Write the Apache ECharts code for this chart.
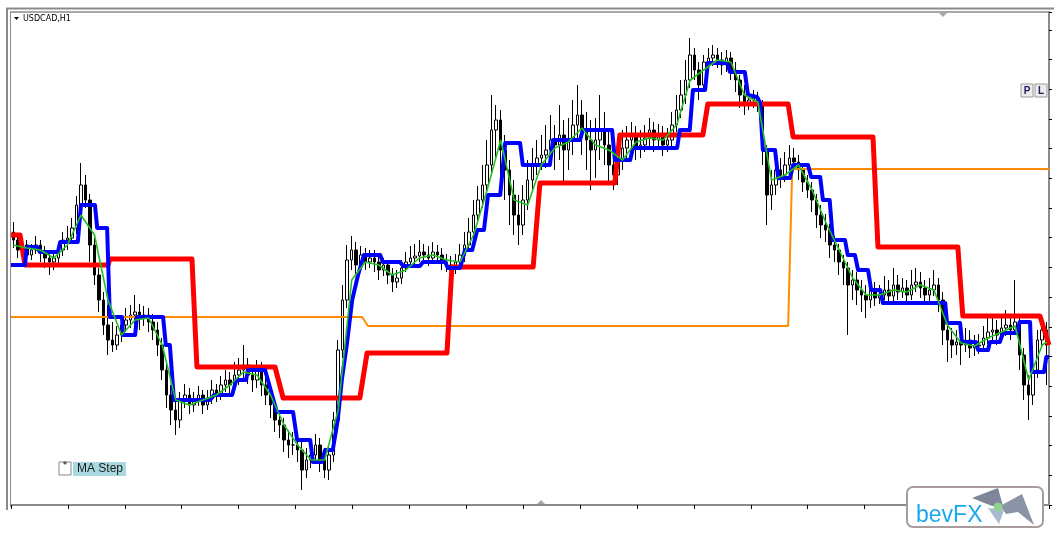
<!DOCTYPE html>
<html>
<head>
<meta charset="utf-8">
<title>USDCAD,H1 - MA Step</title>
<script src="https://cdn.jsdelivr.net/npm/echarts@6/dist/echarts.min.js"></script>
<style>
  html, body { margin: 0; padding: 0; background: #fff; }
  #chart { width: 1062px; height: 544px; }
</style>
</head>
<body>
<div id="chart"></div>
<script>
// H1 candles, [open, close, low, high]
const candles = [
  [1.3180,1.3172,1.3164,1.3190],[1.3172,1.3162,1.3154,1.3178],[1.3162,1.3167,1.3156,1.3174],[1.3167,1.3157,1.3150,1.3172],[1.3157,1.3162,1.3152,1.3168],
  [1.3162,1.3167,1.3158,1.3176],[1.3167,1.3160,1.3150,1.3172],[1.3160,1.3154,1.3144,1.3166],[1.3154,1.3150,1.3137,1.3162],[1.3150,1.3154,1.3142,1.3160],
  [1.3154,1.3162,1.3148,1.3168],[1.3162,1.3172,1.3156,1.3180],[1.3172,1.3174,1.3162,1.3186],[1.3174,1.3184,1.3168,1.3194],[1.3184,1.3207,1.3178,1.3216],
  [1.3207,1.3227,1.3200,1.3249],[1.3227,1.3212,1.3204,1.3237],[1.3212,1.3167,1.3150,1.3218],[1.3167,1.3137,1.3127,1.3174],[1.3137,1.3112,1.3100,1.3144],
  [1.3112,1.3087,1.3077,1.3120],[1.3087,1.3072,1.3057,1.3107],[1.3072,1.3067,1.3060,1.3090],[1.3067,1.3077,1.3062,1.3086],[1.3077,1.3087,1.3070,1.3096],
  [1.3087,1.3092,1.3080,1.3104],[1.3092,1.3097,1.3084,1.3107],[1.3097,1.3100,1.3088,1.3117],[1.3100,1.3094,1.3082,1.3108],[1.3094,1.3097,1.3086,1.3106],
  [1.3097,1.3090,1.3080,1.3104],[1.3090,1.3082,1.3072,1.3098],[1.3082,1.3067,1.3056,1.3090],[1.3067,1.3042,1.3032,1.3074],[1.3042,1.3017,1.3004,1.3050],
  [1.3017,1.3002,1.2987,1.3027],[1.3002,1.2992,1.2977,1.3014],[1.2992,1.3012,1.2984,1.3020],[1.3012,1.3017,1.3004,1.3028],[1.3017,1.3007,1.2998,1.3024],
  [1.3007,1.3012,1.3000,1.3020],[1.3012,1.3017,1.3006,1.3026],[1.3017,1.3007,1.2998,1.3022],[1.3007,1.3014,1.3002,1.3022],[1.3014,1.3022,1.3008,1.3032],
  [1.3022,1.3017,1.3010,1.3028],[1.3017,1.3027,1.3012,1.3036],[1.3027,1.3032,1.3020,1.3042],[1.3032,1.3027,1.3018,1.3040],[1.3027,1.3037,1.3020,1.3050],
  [1.3037,1.3042,1.3027,1.3054],[1.3042,1.3047,1.3034,1.3067],[1.3047,1.3037,1.3028,1.3054],[1.3037,1.3032,1.3020,1.3046],[1.3032,1.3042,1.3024,1.3052],
  [1.3042,1.3027,1.3016,1.3050],[1.3027,1.3017,1.3007,1.3034],[1.3017,1.3007,1.2994,1.3026],[1.3007,1.2992,1.2980,1.3014],[1.2992,1.2987,1.2974,1.3002],
  [1.2987,1.2972,1.2960,1.2994],[1.2972,1.2967,1.2954,1.2982],[1.2967,1.2967,1.2957,1.2980],[1.2967,1.2962,1.2950,1.2976],[1.2962,1.2942,1.2922,1.2972],
  [1.2942,1.2952,1.2934,1.2964],[1.2952,1.2957,1.2944,1.2972],[1.2957,1.2967,1.2950,1.2978],[1.2967,1.2952,1.2940,1.2974],[1.2952,1.2942,1.2934,1.2964],
  [1.2942,1.2957,1.2932,1.2967],[1.2957,1.2992,1.2950,1.3000],[1.2992,1.3062,1.2984,1.3072],[1.3062,1.3112,1.3054,1.3127],[1.3112,1.3152,1.3104,1.3167],
  [1.3152,1.3162,1.3142,1.3176],[1.3162,1.3147,1.3137,1.3170],[1.3147,1.3157,1.3140,1.3166],[1.3157,1.3150,1.3142,1.3164],[1.3150,1.3154,1.3144,1.3162],
  [1.3154,1.3150,1.3140,1.3162],[1.3150,1.3142,1.3132,1.3156],[1.3142,1.3147,1.3136,1.3154],[1.3147,1.3137,1.3128,1.3152],[1.3137,1.3130,1.3120,1.3144],
  [1.3130,1.3134,1.3124,1.3142],[1.3134,1.3144,1.3128,1.3152],[1.3144,1.3150,1.3140,1.3160],[1.3150,1.3154,1.3144,1.3166],[1.3154,1.3156,1.3146,1.3168],
  [1.3156,1.3160,1.3150,1.3172],[1.3160,1.3157,1.3150,1.3168],[1.3157,1.3154,1.3146,1.3166],[1.3154,1.3160,1.3148,1.3170],[1.3160,1.3157,1.3150,1.3167],
  [1.3157,1.3150,1.3142,1.3164],[1.3150,1.3147,1.3140,1.3158],[1.3147,1.3144,1.3136,1.3156],[1.3144,1.3150,1.3138,1.3158],[1.3150,1.3157,1.3144,1.3168],
  [1.3157,1.3167,1.3150,1.3180],[1.3167,1.3180,1.3162,1.3194],[1.3180,1.3197,1.3174,1.3212],[1.3197,1.3212,1.3190,1.3226],[1.3212,1.3227,1.3204,1.3247],
  [1.3227,1.3247,1.3220,1.3272],[1.3247,1.3282,1.3237,1.3317],[1.3282,1.3292,1.3252,1.3307],[1.3292,1.3262,1.3237,1.3302],[1.3262,1.3242,1.3212,1.3277],
  [1.3242,1.3217,1.3187,1.3252],[1.3217,1.3197,1.3177,1.3232],[1.3197,1.3187,1.3167,1.3217],[1.3187,1.3212,1.3177,1.3227],[1.3212,1.3232,1.3202,1.3252],
  [1.3232,1.3247,1.3220,1.3264],[1.3247,1.3254,1.3237,1.3272],[1.3254,1.3257,1.3242,1.3277],[1.3257,1.3262,1.3244,1.3287],[1.3262,1.3272,1.3247,1.3297],
  [1.3272,1.3267,1.3242,1.3287],[1.3267,1.3277,1.3252,1.3307],[1.3277,1.3262,1.3227,1.3292],[1.3262,1.3272,1.3242,1.3294],[1.3272,1.3287,1.3257,1.3312],
  [1.3287,1.3297,1.3272,1.3327],[1.3297,1.3282,1.3257,1.3312],[1.3282,1.3272,1.3242,1.3300],[1.3272,1.3262,1.3222,1.3292],[1.3262,1.3272,1.3234,1.3294],
  [1.3272,1.3282,1.3252,1.3317],[1.3282,1.3267,1.3247,1.3300],[1.3267,1.3247,1.3227,1.3282],[1.3247,1.3237,1.3222,1.3262],[1.3237,1.3252,1.3227,1.3267],
  [1.3252,1.3264,1.3242,1.3282],[1.3264,1.3272,1.3252,1.3286],[1.3272,1.3277,1.3260,1.3290],[1.3277,1.3264,1.3252,1.3286],[1.3264,1.3267,1.3254,1.3282],
  [1.3267,1.3274,1.3260,1.3287],[1.3274,1.3282,1.3266,1.3294],[1.3282,1.3272,1.3260,1.3290],[1.3272,1.3277,1.3264,1.3288],[1.3277,1.3267,1.3256,1.3286],
  [1.3267,1.3272,1.3260,1.3284],[1.3272,1.3287,1.3264,1.3300],[1.3287,1.3302,1.3280,1.3317],[1.3302,1.3317,1.3294,1.3332],[1.3317,1.3332,1.3308,1.3352],
  [1.3332,1.3357,1.3324,1.3374],[1.3357,1.3342,1.3332,1.3364],[1.3342,1.3327,1.3312,1.3350],[1.3327,1.3350,1.3320,1.3357],[1.3350,1.3354,1.3342,1.3364],
  [1.3354,1.3357,1.3346,1.3367],[1.3357,1.3352,1.3344,1.3364],[1.3352,1.3347,1.3337,1.3360],[1.3347,1.3354,1.3340,1.3362],[1.3354,1.3342,1.3332,1.3360],
  [1.3342,1.3332,1.3320,1.3350],[1.3332,1.3317,1.3304,1.3337],[1.3317,1.3307,1.3297,1.3327],[1.3307,1.3312,1.3302,1.3320],[1.3312,1.3314,1.3304,1.3322],
  [1.3314,1.3307,1.3300,1.3320],[1.3307,1.3262,1.3247,1.3312],[1.3262,1.3217,1.3187,1.3267],[1.3217,1.3227,1.3202,1.3242],[1.3227,1.3242,1.3217,1.3254],
  [1.3242,1.3237,1.3224,1.3254],[1.3237,1.3247,1.3230,1.3260],[1.3247,1.3254,1.3240,1.3267],[1.3254,1.3250,1.3242,1.3264],[1.3250,1.3242,1.3232,1.3257],
  [1.3242,1.3230,1.3220,1.3248],[1.3230,1.3222,1.3214,1.3237],[1.3222,1.3212,1.3200,1.3230],[1.3212,1.3197,1.3184,1.3218],[1.3197,1.3187,1.3174,1.3207],
  [1.3187,1.3182,1.3170,1.3198],[1.3182,1.3167,1.3154,1.3188],[1.3167,1.3162,1.3150,1.3176],[1.3162,1.3150,1.3137,1.3168],[1.3150,1.3144,1.3127,1.3157],
  [1.3144,1.3127,1.3077,1.3150],[1.3127,1.3132,1.3112,1.3142],[1.3132,1.3122,1.3107,1.3140],[1.3122,1.3117,1.3100,1.3132],[1.3117,1.3112,1.3094,1.3127],
  [1.3112,1.3122,1.3104,1.3134],[1.3122,1.3114,1.3106,1.3130],[1.3114,1.3117,1.3108,1.3127],[1.3117,1.3122,1.3112,1.3136],[1.3122,1.3116,1.3108,1.3132],
  [1.3116,1.3127,1.3110,1.3144],[1.3127,1.3120,1.3112,1.3137],[1.3120,1.3124,1.3114,1.3134],[1.3124,1.3117,1.3108,1.3132],[1.3117,1.3127,1.3112,1.3142],
  [1.3127,1.3130,1.3120,1.3144],[1.3130,1.3124,1.3114,1.3140],[1.3124,1.3117,1.3107,1.3132],[1.3117,1.3122,1.3110,1.3134],[1.3122,1.3127,1.3116,1.3142],
  [1.3127,1.3112,1.3100,1.3134],[1.3112,1.3082,1.3067,1.3120],[1.3082,1.3072,1.3050,1.3092],[1.3072,1.3067,1.3054,1.3084],[1.3067,1.3070,1.3057,1.3082],
  [1.3070,1.3067,1.3047,1.3080],[1.3067,1.3072,1.3060,1.3084],[1.3072,1.3064,1.3054,1.3082],[1.3064,1.3066,1.3056,1.3077],[1.3066,1.3067,1.3058,1.3078],
  [1.3067,1.3074,1.3062,1.3086],[1.3074,1.3080,1.3068,1.3094],[1.3080,1.3082,1.3072,1.3097],[1.3082,1.3077,1.3067,1.3092],[1.3077,1.3084,1.3070,1.3097],
  [1.3084,1.3087,1.3076,1.3102],[1.3087,1.3082,1.3072,1.3097],[1.3082,1.3090,1.3077,1.3132],[1.3090,1.3057,1.3042,1.3096],[1.3057,1.3027,1.3012,1.3064],
  [1.3027,1.3017,1.2992,1.3037],[1.3017,1.3042,1.3007,1.3050],[1.3042,1.3072,1.3034,1.3082],[1.3072,1.3082,1.3064,1.3094],[1.3082,1.3067,1.3027,1.3090]
];

// green fast MA, [bar, price]
const maFast = [
  [0,1.3167],[3,1.3164],[6,1.3162],[9,1.3154],[12,1.3167],[15,1.3197],[18,1.3177],[21,1.3112],[24,1.3077],[27,1.3092],
  [30,1.3094],[33,1.3067],[36,1.3012],[39,1.3007],[42,1.3012],[45,1.3017],[48,1.3027],[51,1.3040],[54,1.3037],[57,1.3017],
  [60,1.2987],[63,1.2967],[66,1.2952],[69,1.2952],[72,1.3002],[75,1.3132],[78,1.3150],[81,1.3147],[84,1.3137],[87,1.3142],
  [90,1.3154],[93,1.3157],[96,1.3152],[99,1.3150],[102,1.3177],[105,1.3222],[108,1.3272],[111,1.3212],[114,1.3207],[117,1.3247],
  [120,1.3264],[123,1.3270],[126,1.3284],[129,1.3267],[132,1.3262],[135,1.3252],[138,1.3270],[141,1.3274],[144,1.3272],[147,1.3287],
  [150,1.3332],[153,1.3342],[156,1.3352],[159,1.3350],[162,1.3317],[165,1.3310],[168,1.3232],[171,1.3237],[174,1.3247],[177,1.3222],
  [180,1.3190],[183,1.3162],[186,1.3134],[189,1.3117],[192,1.3117],[195,1.3122],[198,1.3120],[201,1.3127],[204,1.3122],[207,1.3087],
  [210,1.3069],[213,1.3066],[216,1.3074],[219,1.3080],[222,1.3086],[225,1.3032],[228,1.3067],[229,1.3070]
];

// blue MA step, [bar, price]
const stepBlue = [
  [-0.5,1.3147],[2.6,1.3147],[3.0,1.3165],[5.3,1.3165],[5.9,1.3160],[9.9,1.3160],[10.4,1.3170],[14.3,1.3170],[15.0,1.3207],[18.1,1.3207],
  [18.6,1.3184],[20.8,1.3184],[21.4,1.3095],[24.1,1.3095],[24.3,1.3077],[27.0,1.3077],[27.4,1.3095],[33.2,1.3095],[33.8,1.3067],[34.7,1.3067],
  [35.6,1.3012],[43.6,1.3012],[44.5,1.3017],[48.5,1.3017],[49.4,1.3032],[51.6,1.3032],[52.0,1.3042],[55.8,1.3042],[58.4,1.3000],[62.0,1.3000],
  [62.9,1.2972],[65.8,1.2972],[66.4,1.2950],[68.4,1.2950],[69.1,1.2962],[70.8,1.2962],[71.9,1.2992],[72.8,1.3032],[73.9,1.3067],[75.1,1.3112],
  [76.4,1.3137],[77.7,1.3157],[81.3,1.3157],[81.9,1.3150],[85.7,1.3150],[86.4,1.3146],[90.1,1.3146],[90.8,1.3150],[95.7,1.3150],[96.3,1.3144],
  [99.0,1.3144],[100.1,1.3162],[101.7,1.3162],[102.8,1.3182],[104.3,1.3182],[105.2,1.3217],[107.9,1.3217],[109.0,1.3269],[112.3,1.3269],[112.9,1.3247],
  [118.9,1.3247],[119.6,1.3272],[125.6,1.3272],[126.2,1.3282],[132.7,1.3282],[133.3,1.3252],[136.7,1.3252],[137.3,1.3264],[147.1,1.3264],[147.7,1.3282],
  [149.9,1.3282],[150.6,1.3322],[153.3,1.3322],[153.9,1.3349],[158.2,1.3349],[158.8,1.3340],[162.1,1.3340],[162.8,1.3317],[164.8,1.3315],[165.5,1.3309],
  [166.1,1.3262],[168.8,1.3262],[169.5,1.3234],[172.1,1.3234],[172.8,1.3247],[176.1,1.3247],[176.8,1.3235],[178.8,1.3235],[179.4,1.3212],[180.9,1.3212],
  [181.6,1.3172],[184.3,1.3172],[184.9,1.3157],[186.5,1.3157],[187.2,1.3142],[189.4,1.3142],[190.1,1.3122],[192.1,1.3122],[192.7,1.3109],[206.5,1.3109],
  [206.9,1.3089],[209.8,1.3089],[210.2,1.3070],[213.3,1.3070],[213.8,1.3062],[216.0,1.3062],[216.4,1.3070],[218.6,1.3070],[219.3,1.3079],[222.5,1.3079],
  [223.0,1.3090],[225.3,1.3090],[225.7,1.3040],[228.4,1.3040],[228.9,1.3055],[229.5,1.3055]
];

// red slow MA step, [bar, price]
const stepRed = [
  [-0.5,1.3177],[1.5,1.3177],[2.6,1.3147],[21.0,1.3147],[21.4,1.3153],[39.6,1.3153],[40.7,1.3045],[58.0,1.3045],[59.8,1.3014],[76.8,1.3014],
  [78.4,1.3059],[96.1,1.3059],[97.2,1.3145],[115.2,1.3145],[116.7,1.3229],[133.3,1.3229],[134.4,1.3277],[152.8,1.3277],[153.9,1.3308],[171.7,1.3308],
  [172.8,1.3275],[190.5,1.3275],[191.6,1.3165],[209.3,1.3165],[210.4,1.3096],[227.5,1.3096],[229.5,1.3067]
];

// orange level, [bar, price]
const stepOrange = [
  [-0.5,1.3095],[77.3,1.3095],[78.6,1.3086],[171.7,1.3086],[172.6,1.3243],[229.5,1.3243]
];

const bars = candles.map((c, i) => String(i));

const chart = echarts.init(document.getElementById('chart'));

const FONT = 'Liberation Sans';
const axisGray = '#8a8a8a';

chart.setOption({
  animation: false,
  backgroundColor: '#ffffff',
  grid: { left: 11, right: 13, top: 12, bottom: 39 },
  xAxis: [
    { type: 'category', data: bars, boundaryGap: true, show: false, position: 'bottom' },
    { type: 'value', min: -0.5, max: 229.5, show: false, position: 'bottom' },
    { // bottom time axis, ticks only
      type: 'value', min: 0, max: 18.24, interval: 1, position: 'bottom',
      axisLine: { show: true, onZero: false, lineStyle: { color: axisGray, width: 2 } },
      axisTick: { show: true, length: 4, lineStyle: { color: '#000', width: 1 } },
      axisLabel: { show: false }, splitLine: { show: false }
    }
  ],
  yAxis: [
    { type: 'value', min: 1.2907, max: 1.3400, show: false, position: 'left' },
    { // price scale on the right, ticks only
      type: 'value', min: 0, max: 16.6, interval: 1, position: 'right',
      axisLine: { show: true, onZero: false, lineStyle: { color: axisGray, width: 2 } },
      axisTick: { show: true, length: 3, lineStyle: { color: '#000', width: 1 } },
      axisLabel: { show: false }, splitLine: { show: false }
    }
  ],
  series: [
    {
      name: 'level', type: 'line', xAxisIndex: 1, yAxisIndex: 0, data: stepOrange,
      symbol: 'none', lineStyle: { color: '#ff8c00', width: 2 }
    },
    {
      name: 'MA slow', type: 'line', xAxisIndex: 1, yAxisIndex: 0, data: stepRed,
      symbol: 'none', lineStyle: { color: '#ff0000', width: 5, join: 'round' }
    },
    {
      name: 'MA Step', type: 'line', xAxisIndex: 1, yAxisIndex: 0, data: stepBlue,
      symbol: 'none', lineStyle: { color: '#0000ff', width: 4, join: 'round' }
    },
    {
      name: 'USDCAD', type: 'candlestick', xAxisIndex: 0, yAxisIndex: 0, data: candles,
      barWidth: 3,
      itemStyle: { color: '#ffffff', color0: '#000000', borderColor: '#000000', borderColor0: '#000000', borderWidth: 1 }
    },
    {
      name: 'MA fast', type: 'line', xAxisIndex: 1, yAxisIndex: 0, data: maFast,
      symbol: 'none', lineStyle: { color: '#22c022', width: 1.6 }
    }
  ],
  graphic: [
    // window frame
    { type: 'line', shape: { x1: 6, y1: 8.5, x2: 1054, y2: 8.5 }, style: { stroke: axisGray, lineWidth: 2 } },
    { type: 'line', shape: { x1: 10, y1: 12, x2: 1049, y2: 12 }, style: { stroke: axisGray, lineWidth: 1.5 } },
    { type: 'line', shape: { x1: 7, y1: 8, x2: 7, y2: 510 }, style: { stroke: axisGray, lineWidth: 2 } },
    { type: 'line', shape: { x1: 10.5, y1: 12, x2: 10.5, y2: 507 }, style: { stroke: axisGray, lineWidth: 1 } },
    { type: 'polygon', shape: { points: [[939, 13], [947, 13], [943, 17]] }, style: { fill: '#a8a8a8' } },
    { type: 'polygon', shape: { points: [[537, 504], [545, 504], [541, 500]] }, style: { fill: '#a8a8a8' } },
    // symbol caption
    { type: 'polygon', shape: { points: [[14, 17], [19, 17], [16.5, 20]] }, style: { fill: '#000' } },
    { type: 'text', x: 23, y: 19, style: { text: 'USDCAD,H1', font: '8px "DejaVu Sans"', fill: '#000', verticalAlign: 'middle' } },
    // indicator button
    { type: 'rect', shape: { x: 59, y: 462, width: 12, height: 13 }, style: { fill: '#fff', stroke: '#888', lineWidth: 1 } },
    { type: 'text', x: 65, y: 466, style: { text: '*', font: '9px "DejaVu Sans"', fill: '#000', align: 'center', verticalAlign: 'middle' } },
    { type: 'rect', shape: { x: 73, y: 462, width: 53, height: 14 }, style: { fill: '#a9d9e0' } },
    { type: 'text', x: 77, y: 469, style: { text: 'MA Step', font: '12px "' + FONT + '"', fill: '#1a1a1a', verticalAlign: 'middle' } },
    // P / L buttons
    { type: 'rect', shape: { x: 1021, y: 84, width: 12, height: 13 }, style: { fill: '#ececec', stroke: '#9a9a9a', lineWidth: 1 } },
    { type: 'text', x: 1027, y: 91, style: { text: 'P', font: 'bold 10px "' + FONT + '"', fill: '#1c1c5c', align: 'center', verticalAlign: 'middle' } },
    { type: 'rect', shape: { x: 1035, y: 84, width: 12, height: 13 }, style: { fill: '#ececec', stroke: '#9a9a9a', lineWidth: 1 } },
    { type: 'text', x: 1041, y: 91, style: { text: 'L', font: 'bold 10px "' + FONT + '"', fill: '#1c1c5c', align: 'center', verticalAlign: 'middle' } },
    // bevFX logo
    { type: 'rect', z: 100, shape: { x: 907, y: 487, width: 136, height: 40, r: 6 }, style: { fill: '#fff', stroke: '#a89c9c', lineWidth: 2 } },
    { type: 'text', z: 101, x: 916, y: 516, style: { text: 'bevFX', font: '23px "' + FONT + '"', fill: '#1aa8ee', verticalAlign: 'middle' } },
    { type: 'polygon', z: 101, shape: { points: [[972, 498], [998, 488], [1003, 506], [992, 506]] }, style: { fill: '#7d8799' } },
    { type: 'polygon', z: 101, shape: { points: [[1000, 506], [1022, 494], [1034, 525], [1018, 512], [1006, 514]] }, style: { fill: '#8a94a6' } },
    { type: 'polygon', z: 101, shape: { points: [[988, 508], [1004, 510], [999, 524]] }, style: { fill: '#a9bad0' } },
    { type: 'circle', z: 102, shape: { cx: 998, cy: 507, r: 4.5 }, style: { fill: '#8fd08f' } }
  ]
});
</script>
</body>
</html>
